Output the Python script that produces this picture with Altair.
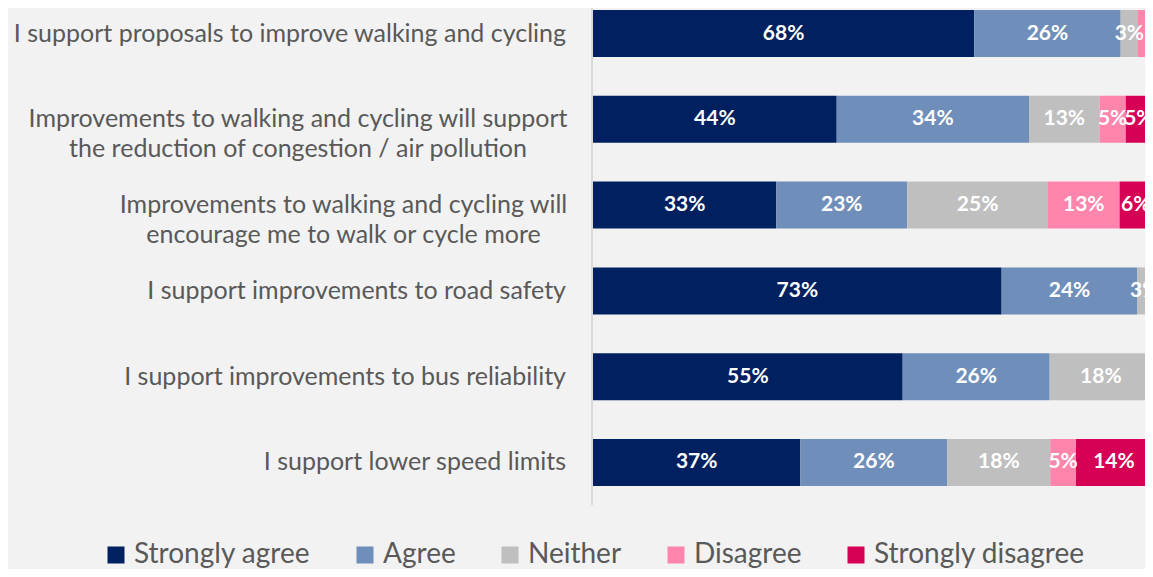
import altair as alt
import pandas as pd

categories = [
    "I support proposals to improve walking and cycling",
    "Improvements to walking and cycling will support the reduction of congestion / air pollution",
    "Improvements to walking and cycling will encourage me to walk or cycle more",
    "I support improvements to road safety",
    "I support improvements to bus reliability",
    "I support lower speed limits",
]
category_lines = [
    ["I support proposals to improve walking and cycling"],
    ["Improvements to walking and cycling will support", "the reduction of congestion / air pollution"],
    ["Improvements to walking and cycling will", "encourage me to walk or cycle more"],
    ["I support improvements to road safety"],
    ["I support improvements to bus reliability"],
    ["I support lower speed limits"],
]
levels = ["Strongly agree", "Agree", "Neither", "Disagree", "Strongly disagree"]
colors = ["#002060", "#6F8FBA", "#BFBFBF", "#FF85AD", "#D60055"]

strongly_agree = [68.2, 43.6, 32.8, 73.1, 55.4, 37.1]
agree = [26.2, 34.4, 23.4, 24.3, 26.3, 26.3]
neither = [3.1, 12.6, 25.2, 2.6, 18.3, 18.4]
disagree = [1.5, 4.7, 12.8, 0.0, 0.0, 4.6]
strongly_disagree = [1.0, 4.7, 5.8, 0.0, 0.0, 13.6]

series = [strongly_agree, agree, neither, disagree, strongly_disagree]

rows = []
for ci, cat in enumerate(categories):
    for li, lev in enumerate(levels):
        v = series[li][ci]
        rows.append({
            "category": cat,
            "level": lev,
            "order": li,
            "value": v,
            "label": f"{round(v)}%" if v >= 2.5 else "",
        })
df = pd.DataFrame(rows)

cat_df = pd.DataFrame({
    "category": categories,
    "display": ["\n".join(l) for l in category_lines],
    "nlines": [len(l) for l in category_lines],
})

# layout
LABEL_RIGHT = -27
LABEL_FONT = 25
BLOCK_WIDTH = {1: 536, 2: 445}  # widest line of each two-line label, for centred lines

yenc = alt.Y(
    "category:N",
    sort=categories,
    axis=None,
    scale=alt.Scale(paddingInner=0.452, paddingOuter=0.0233),
)

base = (
    alt.Chart(df)
    .transform_stack(
        stack="value",
        groupby=["category"],
        as_=["x0", "x1"],
        sort=[alt.SortField("order", order="ascending")],
    )
    .transform_calculate(mid="(datum.x0 + datum.x1) / 2")
)

xscale = alt.Scale(domain=[0, 98.75], nice=False, zero=True)

bars = base.mark_bar(clip=True).encode(
    x=alt.X("x0:Q", scale=xscale, axis=None),
    x2="x1:Q",
    y=yenc,
    color=alt.Color(
        "level:N",
        scale=alt.Scale(domain=levels, range=colors),
        legend=alt.Legend(
            title=None,
            orient="none",
            legendX=-491,
            legendY=533,
            direction="horizontal",
            symbolType="square",
            symbolSize=289,
            symbolStrokeWidth=0,
            labelFontSize=28,
            labelFont="Lato",
            labelColor="#595959",
            labelOffset=4,
            labelLimit=0,
            columnPadding=40,
            padding=0,
        ),
    ),
    order=alt.Order("order:Q"),
)

texts = base.transform_filter("datum.label != ''").mark_text(
    color="white", fontWeight="bold", fontSize=21, font="Lato", baseline="middle"
).encode(
    x=alt.X("mid:Q", scale=xscale),
    y=yenc,
    text="label:N",
)

label_layers = []
single = alt.Chart(cat_df).transform_filter("datum.nlines == 1").mark_text(
    align="right", baseline="middle", fontSize=LABEL_FONT, font="Lato", color="#595959"
).encode(x=alt.value(LABEL_RIGHT), y=yenc, text="display:N")
label_layers.append(single)
for ci, lines in enumerate(category_lines):
    if len(lines) > 1:
        label_layers.append(
            alt.Chart(cat_df)
            .transform_filter(alt.datum.category == categories[ci])
            .mark_text(
                align="center",
                baseline="middle",
                lineBreak="\n",
                lineHeight=30,
                fontSize=LABEL_FONT,
                font="Lato",
                color="#595959",
            )
            .encode(
                x=alt.value(LABEL_RIGHT - BLOCK_WIDTH[ci] / 2),
                y=yenc,
                text="display:N",
            )
        )

axis_line = alt.Chart(pd.DataFrame({"a": [0]})).mark_rule(
    color="#D9D9D9", strokeWidth=2
).encode(x=alt.value(-1), y=alt.value(0), y2=alt.value(497))

chart = (
    alt.layer(axis_line, bars, texts, *label_layers)
    .properties(
        width=552,
        height=480,
        autosize=alt.AutoSizeParams(type="none"),
        padding={"left": 585, "top": 0, "right": 0, "bottom": 81},
        background="#F2F2F2",
    )
    .configure_view(stroke=None)
)

chart.save("out.html", embed_options={"renderer": "svg", "actions": False})
